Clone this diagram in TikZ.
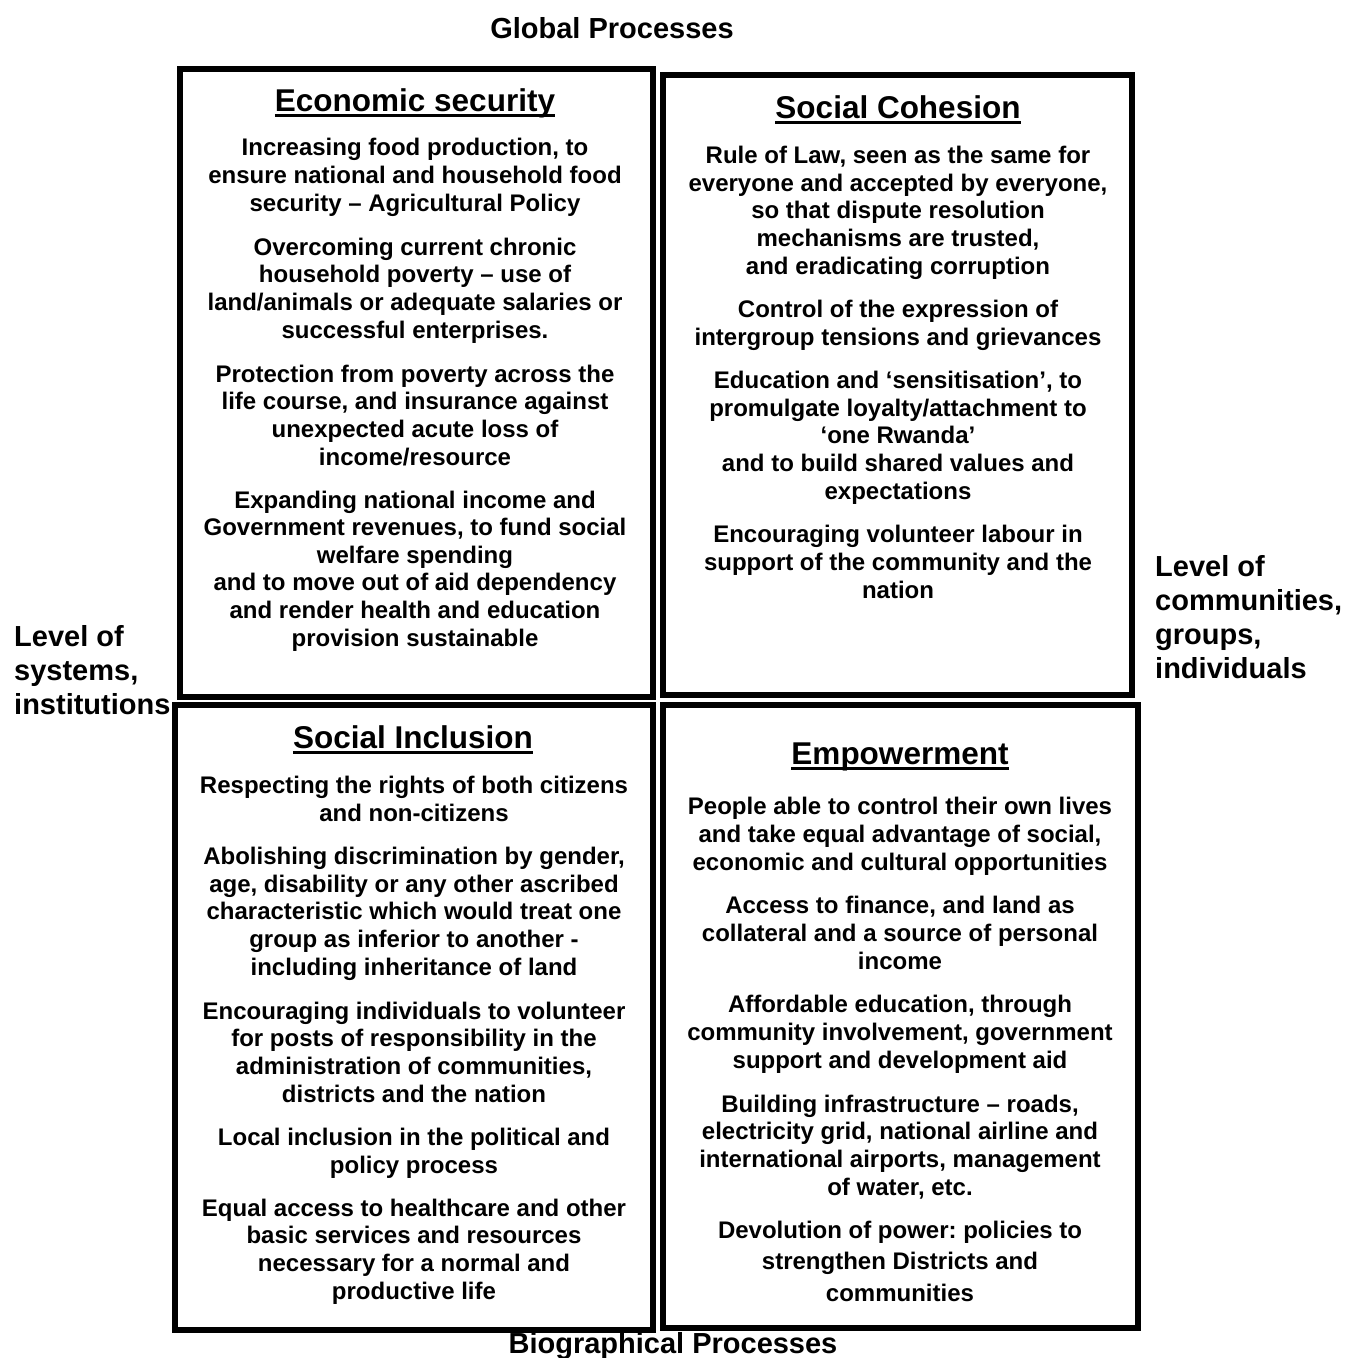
\documentclass[tikz,border=0pt]{standalone}
\usepackage{fontspec}
\setmainfont{Liberation Sans}
\begin{document}
\frenchspacing
\begin{tikzpicture}[x=1pt,y=-1pt,
  quad/.style={line width=6pt},
  body/.style={inner sep=0pt, anchor=base, align=center, font=\fontsize{24}{27.6}\selectfont\bfseries},
  bodywide/.style={body, font=\fontsize{24}{31.5}\selectfont\bfseries},
  heading/.style={inner sep=0pt, anchor=base, font=\fontsize{31.5}{36}\selectfont\bfseries},
  ul/.style={line width=3pt},
  side/.style={inner sep=0pt, font=\fontsize{29}{33.7}\selectfont\bfseries},
  sidelabel/.style={side, anchor=base west, align=left}
]
\useasboundingbox (0,0) rectangle (1347,1358);
\fill[white] (0,0) rectangle (1347,1358);

% boxes
\draw[quad] (179.5,68.5) rectangle (652.5,697);
\draw[quad] (663,75) rectangle (1132,694.5);
\draw[quad] (174.5,705) rectangle (652.5,1330);
\draw[quad] (663,705) rectangle (1137.5,1328);

% outer labels (anchor base = baseline of last line)
\node[side, anchor=base] (glob) at (612,38) {Global Processes};
\node[side, anchor=base] (bio) at (673,1353) {Biographical Processes};
\node[sidelabel] (lsys) at (14,714) {Level of\\systems,\\institutions};
\node[sidelabel] (lcom) at (1155,678) {Level of\\communities,\\groups,\\individuals};

% Economic security
\node[heading] (h1) at (415,111) {Economic security};
\draw[ul] ([yshift=-4.5pt]h1.base west) -- ([yshift=-4.5pt]h1.base east);
\node[body] (e1) at (415,211) {Increasing food production, to\\ensure national and household food\\security – Agricultural Policy};
\node[body] (e2) at (415,338) {Overcoming current chronic\\household poverty – use of\\land/animals or adequate salaries or\\successful enterprises.};
\node[body] (e3) at (415,465) {Protection from poverty across the\\life course, and insurance against\\unexpected acute loss of\\income/resource};
\node[body] (e4) at (415,646) {Expanding national income and\\Government revenues, to fund social\\welfare spending\\and to move out of aid dependency\\and render health and education\\provision sustainable};

% Social Cohesion
\node[heading] (h2) at (898,118) {Social Cohesion};
\draw[ul] ([yshift=-4.5pt]h2.base west) -- ([yshift=-4.5pt]h2.base east);
\node[body] (c1) at (898,274) {Rule of Law, seen as the same for\\everyone and accepted by everyone,\\so that dispute resolution\\mechanisms are trusted,\\and eradicating corruption};
\node[body] (c2) at (898,345) {Control of the expression of\\intergroup tensions and grievances};
\node[body] (c3) at (898,499) {Education and ‘sensitisation’, to\\promulgate loyalty/attachment to\\‘one Rwanda’\\and to build shared values and\\expectations};
\node[body] (c4) at (898,598) {Encouraging volunteer labour in\\support of the community and the\\nation};

% Social Inclusion
\node[heading] (h3) at (413,748) {Social Inclusion};
\draw[ul] ([yshift=-4.5pt]h3.base west) -- ([yshift=-4.5pt]h3.base east);
\node[body] (i1) at (414,821) {Respecting the rights of both citizens\\and non-citizens};
\node[body] (i2) at (414,975) {Abolishing discrimination by gender,\\age, disability or any other ascribed\\characteristic which would treat one\\group as inferior to another -\\including inheritance of land};
\node[body] (i3) at (414,1102) {Encouraging individuals to volunteer\\for posts of responsibility in the\\administration of communities,\\districts and the nation};
\node[body] (i4) at (414,1173) {Local inclusion in the political and\\policy process};
\node[body] (i5) at (414,1299) {Equal access to healthcare and other\\basic services and resources\\necessary for a normal and\\productive life};

% Empowerment
\node[heading] (h4) at (900,764) {Empowerment};
\draw[ul] ([yshift=-4.5pt]h4.base west) -- ([yshift=-4.5pt]h4.base east);
\node[body] (m1) at (900,870) {People able to control their own lives\\and take equal advantage of social,\\economic and cultural opportunities};
\node[body] (m2) at (900,969) {Access to finance, and land as\\collateral and a source of personal\\income};
\node[body] (m3) at (900,1068) {Affordable education, through\\community involvement, government\\support and development aid};
\node[body] (m4) at (900,1195) {Building infrastructure – roads,\\electricity grid, national airline and\\international airports, management\\of water, etc.};
\node[bodywide] (m5) at (900,1301) {Devolution of power: policies to\\strengthen Districts and\\communities};
\end{tikzpicture}
\end{document}
